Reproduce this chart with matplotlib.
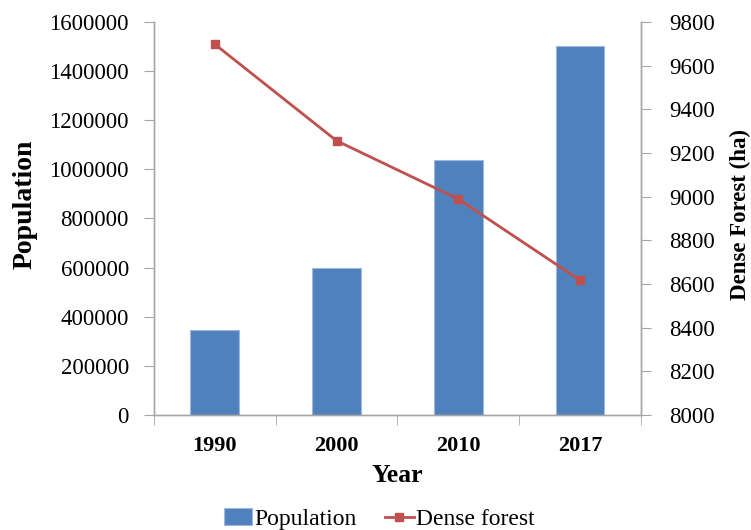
import numpy as np
import matplotlib
matplotlib.use("Agg")
import matplotlib.pyplot as plt
from matplotlib.ticker import FixedLocator, ScalarFormatter

plt.rcParams['font.family'] = ['Liberation Serif', 'DejaVu Serif']

years = ['1990', '2000', '2010', '2017']
population = [344000, 600000, 1037000, 1502000]
dense_forest = [9698, 9256, 8989, 8617]

bar_color = '#4F81BD'
line_color = '#C0504D'
spine_color = '#A6A6A6'

fig = plt.figure(figsize=(7.51, 5.30), dpi=100)
ax = fig.add_axes([0.205, 0.217, 0.6485, 0.7415])
ax2 = ax.twinx()

x = np.arange(len(years))
bars = ax.bar(x, population, width=0.4, color=bar_color, edgecolor='#9DB9E0',
              linewidth=0.8, label='Population', zorder=2)
line, = ax2.plot(x, dense_forest, color=line_color, linewidth=2, marker='s',
                 markersize=6, label='Dense forest', zorder=3)

ax.set_xlim(-0.5, len(years) - 0.5)
ax.set_ylim(0, 1600000)
ax.set_yticks(np.arange(0, 1600001, 200000))
fmt = ScalarFormatter(useOffset=False)
fmt.set_scientific(False)
ax.yaxis.set_major_formatter(fmt)
ax2.set_ylim(8000, 9800)
ax2.set_yticks(np.arange(8000, 9801, 200))

ax.set_xticks(x)
ax.set_xticklabels(years, fontsize=16, fontweight='bold')
ax.xaxis.set_minor_locator(FixedLocator(np.arange(-0.5, len(years), 1)))
ax.tick_params(axis='x', which='major', length=0, pad=15)
ax.tick_params(axis='x', which='minor', length=7, color=spine_color, direction='out')
ax.tick_params(axis='y', labelsize=16.5, length=7, color=spine_color, pad=11)
ax2.tick_params(axis='y', labelsize=16.5, length=7, color=spine_color, pad=13)

for a in (ax, ax2):
    a.spines['top'].set_visible(False)
    for s in ('left', 'right', 'bottom'):
        a.spines[s].set_color(spine_color)
        a.spines[s].set_linewidth(1)

ax.set_xlabel('Year', fontsize=18.5, fontweight='bold', labelpad=6)
ax.set_ylabel('Population', fontsize=20, fontweight='bold')
ax.yaxis.set_label_coords(-0.238, 0.535)
ax2.set_ylabel('Dense Forest (ha)', fontsize=16.5, fontweight='bold')
ax2.yaxis.set_label_coords(1.182, 0.51)

fig.legend(handles=[bars, line], labels=['Population', 'Dense forest'],
           loc='lower center', bbox_to_anchor=(0.505, -0.04), ncol=2,
           frameon=False, fontsize=17, handlelength=1.2, handletextpad=0.1,
           columnspacing=1.2)

fig.savefig('out.png', dpi=100)
